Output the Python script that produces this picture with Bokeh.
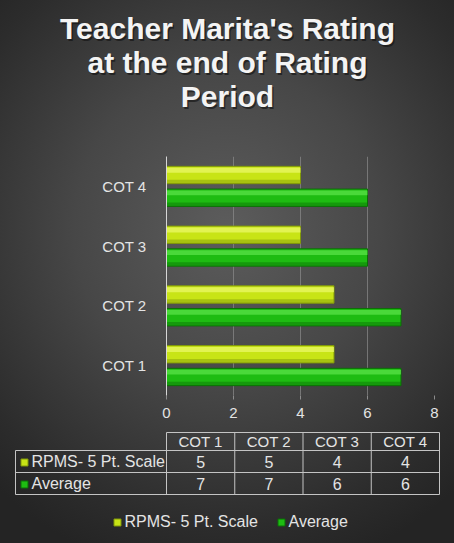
from bokeh.plotting import figure
from bokeh.models import FactorRange, Range1d, FixedTicker, ColumnDataSource
from bokeh.layouts import column
from bokeh.transform import dodge
from bokeh.embed import file_html
from bokeh.resources import INLINE
from bokeh.core.properties import value

# ---------------- data ----------------
categories = ["COT 1", "COT 2", "COT 3", "COT 4"]
series_names = ["RPMS- 5 Pt. Scale", "Average"]
rpms = [5, 5, 4, 4]
average = [7, 7, 6, 6]
x_ticks = [0, 2, 4, 6, 8]
title_lines = ["Teacher Marita's Rating", "at the end of Rating", "Period"]

# ---------------- style ----------------
FONT = "Liberation Sans"
TXT = "#e4e4e4"
YELLOW, YELLOW_HI, YELLOW_LO = "#c8e416", "#ecfa6e", "#809808"
GREEN, GREEN_HI, GREEN_LO = "#1ebc12", "#5ce64c", "#0b6e06"
series_colors = [(YELLOW, YELLOW_HI, YELLOW_LO), (GREEN, GREEN_HI, GREEN_LO)]
GRID = "#8c8c8c"
W = 454


def blank(height):
    f = figure(width=W, height=height, x_range=Range1d(0, W), y_range=Range1d(height, 0),
               output_backend="svg", toolbar_location=None,
               x_axis_type=None, y_axis_type=None, min_border=0)
    f.border_fill_color = None
    f.background_fill_color = None
    f.outline_line_color = None
    f.grid.grid_line_color = None
    f.frame_align = False
    return f


# ---------------- title ----------------
TH = 150
tt = blank(TH)
tt.text(x=[W / 2 + 1.5] * 3, y=[28 + 34 * i + 1.5 for i in range(3)], text=title_lines,
        text_font=value(FONT), text_font_size="30px", text_font_style="bold",
        text_color="#101010", text_alpha=0.6, text_align="center", text_baseline="middle")
tt.text(x=[W / 2] * 3, y=[28 + 34 * i for i in range(3)], text=title_lines,
        text_font=value(FONT), text_font_size="30px", text_font_style="bold",
        text_color="#f4f4f4", text_align="center", text_baseline="middle")

# ---------------- bar chart ----------------
src = ColumnDataSource(dict(cat=categories, rpms=rpms, avg=average))

p = figure(width=W, height=425 - TH,
           y_range=FactorRange(*categories, range_padding=0),
           x_range=Range1d(0, 8),
           output_backend="svg", toolbar_location=None,
           min_border_left=166, min_border_right=20,
           min_border_top=156 - TH, min_border_bottom=30)
p.border_fill_color = None
p.background_fill_color = None
p.outline_line_color = None
p.frame_align = False

bh = 0.29
offs = [0.19, -0.19]
fields = ["rpms", "avg"]
for f, o, (c, hi, lo) in zip(fields, offs, series_colors):
    p.hbar(y=dodge("cat", o, range=p.y_range), left=0, right=f, height=bh,
           source=src, fill_color=c, line_color=lo, line_width=1)
    p.hbar(y=dodge("cat", o + 0.08, range=p.y_range), left=0, right=f, height=0.08,
           source=src, fill_color=hi, fill_alpha=0.7, line_color=None)
    p.hbar(y=dodge("cat", o - 0.11, range=p.y_range), left=0, right=f, height=0.06,
           source=src, fill_color=lo, fill_alpha=0.45, line_color=None)

p.xgrid.ticker = FixedTicker(ticks=x_ticks)
p.xgrid.grid_line_color = GRID
p.xgrid.grid_line_alpha = 0.7
p.ygrid.grid_line_color = None

p.xaxis.ticker = FixedTicker(ticks=x_ticks)
p.xaxis.axis_line_color = None
p.xaxis.major_tick_line_color = GRID
p.xaxis.major_tick_out = 4
p.xaxis.major_tick_in = 0
p.xaxis.minor_tick_line_color = None
p.xaxis.major_label_text_font = FONT
p.xaxis.major_label_text_font_size = "15px"
p.xaxis.major_label_text_color = TXT
p.xaxis.major_label_standoff = 8

p.yaxis.axis_line_color = "#d6d6d6"
p.yaxis.major_tick_line_color = None
p.yaxis.minor_tick_line_color = None
p.yaxis.major_label_text_font = FONT
p.yaxis.major_label_text_font_size = "15px"
p.yaxis.major_label_text_color = TXT
p.yaxis.major_label_standoff = 14

# ---------------- data table + legend ----------------
t = blank(118)

lab_x0, col_x0, col_w = 15, 166, 68.25
head_y0, head_h, row_h = 7, 18, 22
ncol = len(categories)
nrow = len(series_names)
x_end = col_x0 + ncol * col_w
rows_top = head_y0 + head_h
rows_bot = rows_top + nrow * row_h

hx0, hx1, hy0, hy1 = [], [], [], []
hx0.append(col_x0); hx1.append(x_end); hy0.append(head_y0); hy1.append(head_y0)
for j in range(nrow + 1):
    yy = rows_top + j * row_h
    hx0.append(lab_x0); hx1.append(x_end); hy0.append(yy); hy1.append(yy)
hx0.append(lab_x0); hx1.append(lab_x0); hy0.append(rows_top); hy1.append(rows_bot)
for i in range(ncol + 1):
    xx = col_x0 + i * col_w
    hx0.append(xx); hx1.append(xx); hy0.append(head_y0); hy1.append(rows_bot)
t.segment(x0=hx0, y0=hy0, x1=hx1, y1=hy1, line_color="#c4c4c4", line_width=1)

txt_kw = dict(text_font=value(FONT), text_font_size="15px", text_color=TXT,
              text_baseline="middle")
big_kw = dict(txt_kw, text_font_size="16px")
t.text(x=[col_x0 + (i + 0.5) * col_w for i in range(ncol)],
       y=[head_y0 + head_h / 2] * ncol, text=categories, text_align="center", **txt_kw)
for j, vals in enumerate([rpms, average]):
    t.text(x=[col_x0 + (i + 0.5) * col_w for i in range(ncol)],
           y=[rows_top + (j + 0.5) * row_h] * ncol,
           text=[str(v) for v in vals], text_align="center", **big_kw)
for j, (name, (c, hi, lo)) in enumerate(zip(series_names, series_colors)):
    yy = rows_top + (j + 0.5) * row_h
    t.scatter(x=[24], y=[yy + 1], marker="square", size=7, fill_color=c, line_color=lo)
    t.text(x=[31], y=[yy], text=[name], text_align="left", **big_kw)

leg_y = 96
leg_x = [117, 281]
for name, lx, (c, hi, lo) in zip(series_names, leg_x, series_colors):
    t.scatter(x=[lx], y=[leg_y + 1], marker="square", size=7, fill_color=c, line_color=lo)
    t.text(x=[lx + 7], y=[leg_y], text=[name], text_align="left", **big_kw)

layout = column(tt, p, t, spacing=0)
layout.styles = {"background": "radial-gradient(ellipse 75% 65% at 50% 42%, #5c5c5c 0%, #474747 45%, #2c2c2c 85%, #242424 100%)"}

open("out.html", "w").write(file_html(layout, INLINE))
